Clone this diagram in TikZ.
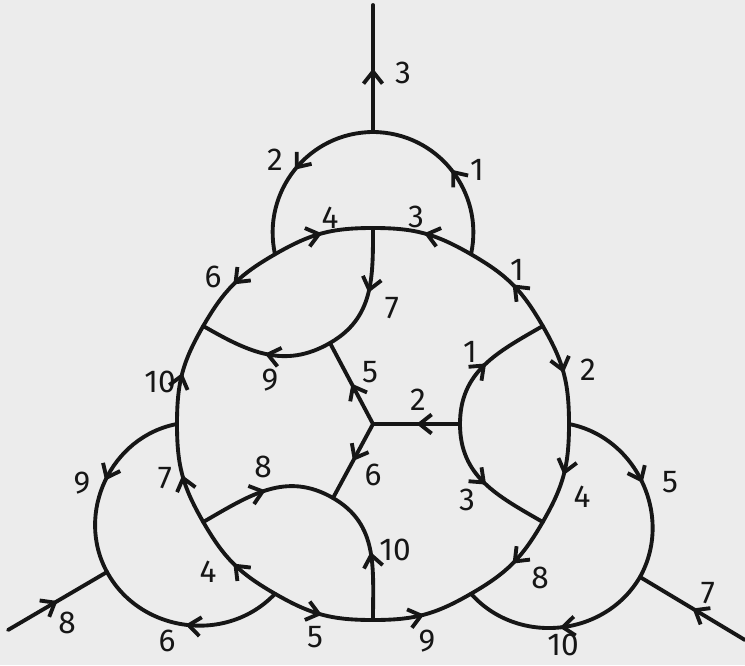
\documentclass[tikz,border=0pt]{standalone}
\usepackage{fontspec}
\setmainfont{Fira Sans}
\usepackage{tikz}
\usetikzlibrary{arrows.meta,decorations.markings}
\definecolor{paper}{RGB}{236,236,236}
\definecolor{ink}{RGB}{22,22,22}
\tikzset{
  >={Straight Barb[length=2.4mm,width=3.8mm]},
  strand/.style={
    draw=ink,
    line width=2.2pt,
    line cap=round,
    line join=round,
    looseness=1.05,
    postaction={decorate},
    decoration={markings, mark=at position 0.5 with {\arrow{>}}}
  },
  numlabel/.style={
    text=ink,
    inner sep=1pt,
    font=\fontsize{18}{21}\selectfont
  }
}
\begin{document}
\begin{tikzpicture}
  \useasboundingbox (-7.46,-4.82) rectangle (7.44,8.48);
  \fill[paper] (-7.46,-4.82) rectangle (7.44,8.48);

  \foreach \a in {0,30,...,330} \coordinate (rim\a) at (\a:3.92);
  \coordinate (hub) at (0,0);
  \coordinate (mid120) at (-0.86,1.62);
  \coordinate (mid0) at (1.74,0);
  \coordinate (mid240) at (-0.80,-1.48);
  \coordinate (toptip) at (0,5.84);
  \coordinate (topend) at (0,8.38);
  \coordinate (lefttip) at (-5.32,-2.96);
  \coordinate (leftend) at (-7.30,-4.12);
  \coordinate (righttip) at (5.34,-3.06);
  \coordinate (rightend) at (7.44,-4.32);

  \draw[strand] (rim120) to[bend left=15] (rim90);
  \draw[strand] (rim60) to[bend right=15] (rim90);
  \draw[strand] (rim30) to[bend right=15] (rim60);
  \draw[strand] (rim30) to[bend left=15] (rim0);
  \draw[strand] (rim0) to[bend left=15] (rim330);
  \draw[strand] (rim330) to[bend left=15] (rim300);
  \draw[strand] (rim270) to[bend right=15] (rim300);
  \draw[strand] (rim240) to[bend right=15] (rim270);
  \draw[strand] (rim240) to[bend left=15] (rim210);
  \draw[strand] (rim210) to[bend left=15] (rim180);
  \draw[strand] (rim180) to[bend left=15] (rim150);
  \draw[strand] (rim120) to[bend right=15] (rim150);

  \draw[strand] (toptip) to[bend right=51] (rim120);
  \draw[strand] (rim60) to[bend right=51] (toptip);
  \draw[strand] (toptip) -- (topend);
  \draw[strand] (rim180) to[bend right=54] (lefttip);
  \draw[strand] (rim240) to[bend left=54] (lefttip);
  \draw[strand] (leftend) -- (lefttip);
  \draw[strand] (rim0) to[bend left=54] (righttip);
  \draw[strand] (righttip) to[bend left=54] (rim300);
  \draw[strand] (rightend) -- (righttip);

  \draw[strand] (rim90) to[out=270,in=30] (mid120);
  \draw[strand] (mid120) to[out=210,in=330] (rim150);
  \draw[strand] (mid0) to[out=90,in=210] (rim30);
  \draw[strand] (mid0) to[out=270,in=150] (rim330);
  \draw[strand] (rim210) to[out=30,in=150] (mid240);
  \draw[strand] (rim270) to[out=90,in=330] (mid240);
  \draw[strand] (hub) -- (mid120);
  \draw[strand] (mid0) -- (hub);
  \draw[strand] (hub) -- (mid240);

  \node[numlabel] (rl105) at (-0.86,4.12) {4};
  \node[numlabel] (rl75) at (0.86,4.14) {3};
  \node[numlabel] (rl45) at (2.88,3.08) {1};
  \node[numlabel] (rl15) at (4.30,1.08) {2};
  \node[numlabel] (rl345) at (4.18,-1.46) {4};
  \node[numlabel] (rl315) at (3.34,-3.08) {8};
  \node[numlabel] (rl285) at (1.08,-4.34) {9};
  \node[numlabel] (rl255) at (-1.16,-4.26) {5};
  \node[numlabel] (rl225) at (-3.30,-2.96) {4};
  \node[numlabel] (rl195) at (-4.16,-1.08) {7};
  \node[numlabel] (rl165) at (-4.26,0.84) {10};
  \node[numlabel] (rl135) at (-3.20,2.94) {6};

  \node[numlabel] (toplabl) at (-1.96,5.28) {2};
  \node[numlabel] (toplabr) at (2.08,5.08) {1};
  \node[numlabel] (toplabout) at (0.60,7.02) {3};
  \node[numlabel] (leftlabu) at (-5.82,-1.18) {9};
  \node[numlabel] (leftlabd) at (-4.12,-4.34) {6};
  \node[numlabel] (leftlabout) at (-6.12,-3.98) {8};
  \node[numlabel] (rightlabu) at (5.94,-1.16) {5};
  \node[numlabel] (rightlabd) at (3.80,-4.42) {10};
  \node[numlabel] (rightlabout) at (6.70,-3.38) {7};

  \node[numlabel] (innerlab7) at (0.38,2.32) {7};
  \node[numlabel] (innerlab9) at (-2.06,0.88) {9};
  \node[numlabel] (innerlab1) at (1.94,1.44) {1};
  \node[numlabel] (innerlab3) at (1.88,-1.52) {3};
  \node[numlabel] (innerlab8) at (-2.20,-0.86) {8};
  \node[numlabel] (innerlab10) at (0.44,-2.52) {10};
  \node[numlabel] (hublab5) at (-0.06,1.04) {5};
  \node[numlabel] (hublab2) at (0.90,0.48) {2};
  \node[numlabel] (hublab6) at (0,-1.02) {6};
\end{tikzpicture}
\end{document}
